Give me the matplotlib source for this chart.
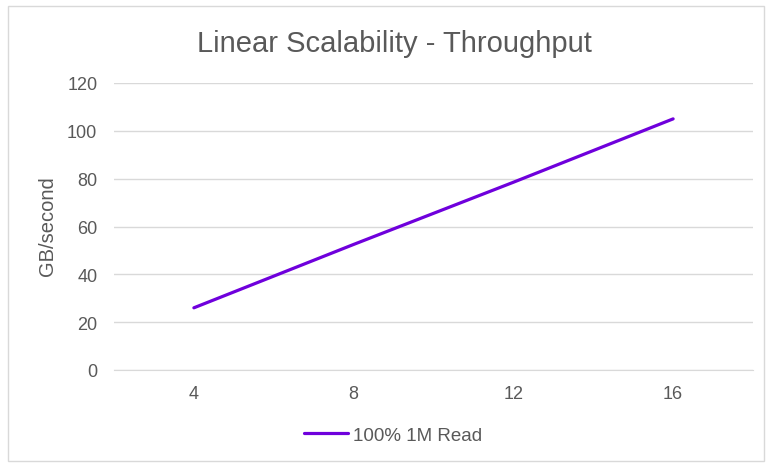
import matplotlib.pyplot as plt
from matplotlib.patches import Rectangle

plt.rcParams['font.family'] = ['Liberation Sans', 'DejaVu Sans']

# data
nodes = ["4", "8", "12", "16"]
throughput = [26, 52.5, 78.5, 105]
series_name = "100% 1M Read"

text_col = "#595959"
grid_col = "#d9d9d9"
line_col = "#6f00dc"

fig = plt.figure(figsize=(7.66, 4.64), dpi=100)
W, H = 766, 464

# chart border like an Excel chart area
fig.patches.append(Rectangle((8 / W, 1 - 462 / H), 756 / W, 455 / H, transform=fig.transFigure,
                             fill=False, edgecolor=grid_col, linewidth=1.0))

ax = fig.add_axes([114 / W, 1 - 371 / H, (753 - 114) / W, (371 - 84) / H])
x = range(len(nodes))
ax.plot(x, throughput, color=line_col, linewidth=2.3, solid_capstyle='round', label=series_name)

ax.set_xlim(-0.5, len(nodes) - 0.5)
ax.set_ylim(0, 120)
ax.set_xticks(list(x))
ax.set_xticklabels(nodes)
ax.set_yticks(range(0, 121, 20))
ax.grid(axis='y', color=grid_col, linewidth=1.0)
ax.set_axisbelow(True)
for s in ['top', 'right', 'left']:
    ax.spines[s].set_visible(False)
ax.spines['bottom'].set_color(grid_col)
ax.tick_params(length=0, labelsize=13, labelcolor=text_col)
ax.tick_params(axis='y', pad=12)
ax.tick_params(axis='x', pad=11)

fig.text(47 / W, 1 - 226 / H, "GB/second", rotation=90, ha='center', va='center',
         fontsize=14.5, color=text_col)
fig.text(394 / W, 1 - 52 / H, "Linear Scalability - Throughput", ha='center', va='baseline',
         fontsize=21, color=text_col)

leg = fig.legend(loc='center', bbox_to_anchor=(393 / W, 1 - 436 / H), frameon=False,
                 fontsize=13.5, handlelength=2.35, handletextpad=0.27)
for t in leg.get_texts():
    t.set_color(text_col)

fig.savefig("out.png", dpi=100)
